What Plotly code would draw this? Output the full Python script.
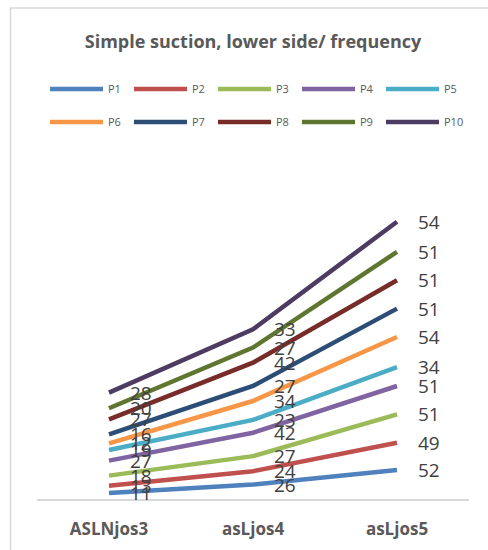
import numpy as np
import plotly.graph_objects as go

categories = ["ASLNjos3", "asLjos4", "asLjos5"]
series_names = ["P1", "P2", "P3", "P4", "P5", "P6", "P7", "P8", "P9", "P10"]
P1 = [11, 26, 52]
P2 = [13, 24, 49]
P3 = [18, 27, 51]
P4 = [27, 42, 51]
P5 = [19, 23, 34]
P6 = [12, 34, 54]
P7 = [16, 27, 51]
P8 = [27, 42, 51]
P9 = [20, 27, 51]
P10 = [28, 33, 54]
series_values = [P1, P2, P3, P4, P5, P6, P7, P8, P9, P10]
colors = ["#4F81BD", "#C0504D", "#9BBB59", "#8064A2", "#4BACC6",
          "#F79646", "#2C4D75", "#772C2A", "#5F7530", "#4D3B62"]

W, H = 488, 550
L, R, T, B = 37, 19, 165, 51
pw, ph = W - L - R, H - T - B

def px_x(p):
    return (p - L) / pw

def px_y(p):
    return (H - B - p) / ph

cum = np.cumsum(np.array(series_values, dtype=float), axis=0)
xi = np.arange(len(categories))

fig = go.Figure()
annotations = []
for k, (name, vals, c, color) in enumerate(zip(series_names, series_values, cum, colors)):
    fig.add_trace(go.Scatter(
        x=xi, y=c, mode="lines", name=name,
        legend="legend" if k < 5 else "legend2",
        line=dict(color=color, width=4.5),
    ))
    for xv, yv, v in zip(xi, c, vals):
        annotations.append(dict(
            x=xv, y=yv, xref="x", yref="y", text=str(v), showarrow=False,
            xanchor="left", yanchor="middle", xshift=19,
            font=dict(family="Open Sans", size=19, color="#404040"),
        ))

leg_common = dict(
    orientation="h", x=px_x(45), xanchor="left", yanchor="middle",
    itemwidth=53, entrywidthmode="pixels", entrywidth=16,
    font=dict(family="Open Sans", size=11, color="#595959"),
    bgcolor="rgba(0,0,0,0)",
)

fig.update_layout(
    width=W, height=H,
    margin=dict(l=L, r=R, t=T, b=B, pad=0, autoexpand=False),
    paper_bgcolor="white", plot_bgcolor="white",
    title=dict(
        text="<b>Simple suction, lower side/ frequency</b>",
        x=253 / W, xref="container", xanchor="center",
        y=1 - 42 / H, yref="container", yanchor="middle",
        font=dict(family="Open Sans", size=18, color="#595959"),
    ),
    xaxis=dict(
        tickmode="array", tickvals=xi, ticktext=["<b>%s</b>" % c for c in categories],
        range=[-0.5, 2.5], showgrid=False, zeroline=False,
        showline=True, linecolor="#D9D9D9", linewidth=1.5,
        ticks="outside", ticklen=14, tickcolor="rgba(0,0,0,0)",
        tickfont=dict(family="Open Sans", size=17, color="#595959"),
        fixedrange=True, automargin=False,
    ),
    yaxis=dict(range=[0, 600], visible=False, showgrid=False, zeroline=False,
               automargin=False),
    legend=dict(y=px_y(89), **leg_common),
    legend2=dict(y=px_y(122), **leg_common),
    showlegend=True,
    annotations=annotations,
    shapes=[dict(type="rect", xref="paper", yref="paper",
                 x0=px_x(10.5), x1=px_x(520), y0=px_y(600), y1=px_y(8),
                 line=dict(color="#D9D9D9", width=1.5), fillcolor="rgba(0,0,0,0)",
                 layer="above")],
)

fig.write_html("out.html", config={"displayModeBar": False},
               post_script="document.body.style.margin='0';document.body.style.overflow='hidden';")
